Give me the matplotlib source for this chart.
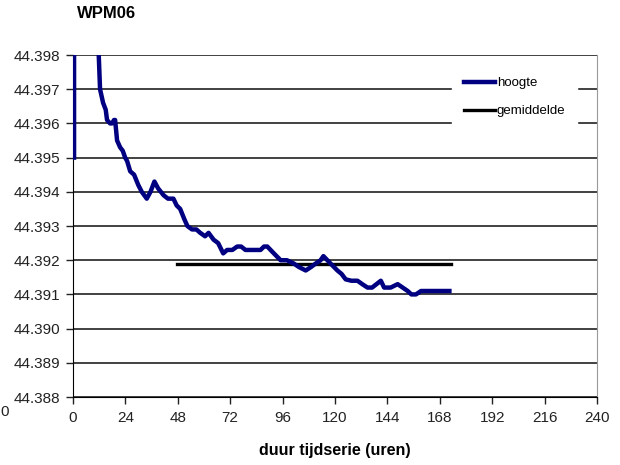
import numpy as np
import matplotlib.pyplot as plt
from matplotlib.ticker import FormatStrFormatter

plt.rcParams['font.family'] = ['Liberation Sans', 'DejaVu Sans']

# ---- data ----
uren = [0.5, 0.5, 5.0, 11.0, 11.8, 12.4, 13.8, 15.0, 15.6, 17.0, 17.9, 18.8, 19.3,
        20.2, 21.6, 22.8, 23.9, 24.8, 26.2, 28.0, 29.9, 31.5, 33.8, 35.5, 37.3,
        39.0, 41.5, 43.5, 46.0, 47.5, 49.1, 51.0, 52.4, 54.5, 56.5, 58.3, 60.5,
        62.1, 64.4, 66.5, 68.8, 70.6, 73.0, 75.2, 77.0, 79.0, 82.5, 85.9, 87.5,
        89.0, 92.0, 95.1, 98.0, 101.2, 103.5, 106.6, 109.0, 111.1, 113.4, 114.7,
        116.5, 118.0, 121.1, 123.0, 124.9, 127.5, 130.3, 132.5, 134.9, 137.0,
        139.0, 141.0, 142.5, 145.5, 148.7, 151.0, 153.3, 155.0, 157.1, 159.4,
        166.0, 172.4]
hoogte = [44.3950, 44.3995, 44.4000, 44.3995, 44.3980, 44.3970, 44.3966, 44.3964,
          44.3961, 44.3960, 44.3960, 44.3961, 44.3961, 44.3955, 44.3953, 44.3952,
          44.3950, 44.3949, 44.3946, 44.3945, 44.3942, 44.3940, 44.3938, 44.3940,
          44.3943, 44.3941, 44.3939, 44.3938, 44.3938, 44.3936, 44.3935, 44.3932,
          44.3930, 44.3929, 44.3929, 44.3928, 44.3927, 44.3928, 44.3926, 44.3925,
          44.3922, 44.3923, 44.3923, 44.3924, 44.3924, 44.3923, 44.3923, 44.3923,
          44.3924, 44.3924, 44.3922, 44.3920, 44.3920, 44.3919, 44.3918, 44.3917,
          44.3918, 44.3919, 44.3920, 44.39212, 44.3920, 44.3919, 44.3917, 44.3916,
          44.39144, 44.3914, 44.3914, 44.3913, 44.3912, 44.3912, 44.3913, 44.3914,
          44.3912, 44.3912, 44.3913, 44.3912, 44.3911, 44.3910, 44.3910, 44.3911,
          44.3911, 44.3911]

gem_uren = [47.6, 173.2]
gemiddelde = [44.39189, 44.39189]

xticks = np.arange(0, 241, 24)
yticks = np.arange(44.388, 44.3985, 0.001)

# ---- plotting ----
fig = plt.figure(figsize=(6.2, 4.65), dpi=100)
ax = fig.add_axes([0.1177, 0.1462, 0.8452, 0.7355])

ax.set_axisbelow(True)
ax.yaxis.grid(True, color='#333333', linewidth=1.3)
ax.plot(uren, hoogte, color='#000080', linewidth=3.2, label='hoogte',
        solid_joinstyle='round', zorder=3)
ax.plot(gem_uren, gemiddelde, color='black', linewidth=2.4, label='gemiddelde', zorder=2)

ax.set_xlim(0, 240)
ax.set_ylim(44.388, 44.398)
ax.set_xticks(xticks)
ax.set_yticks(yticks)
ax.yaxis.set_major_formatter(FormatStrFormatter('%.3f'))
ax.tick_params(direction='out', length=5, width=1, labelsize=11, colors='#222222')
ax.tick_params(axis='x', pad=5)
ax.tick_params(axis='y', pad=4)

ax.spines['top'].set_visible(False)
ax.spines['right'].set_color('#999999')
ax.spines['left'].set_color('black')
ax.spines['bottom'].set_color('black')

leg = ax.legend(loc='upper right', bbox_to_anchor=(0.975, 0.99), fontsize=9.5,
                handlelength=2.4, handletextpad=0.1, borderpad=0.9,
                labelspacing=1.2, frameon=True, fancybox=False)
leg.get_frame().set_edgecolor('white')
leg.get_frame().set_facecolor('white')
leg.get_frame().set_alpha(1)

ax.set_xlabel('duur tijdserie (uren)', fontsize=11.5, fontweight='bold', labelpad=13)
fig.text(0.124, 0.97, 'WPM06', fontsize=12, fontweight='bold', va='center')
fig.text(0.0, 0.115, '0', fontsize=11, color='#222222', va='center')

plt.savefig('out.png', dpi=100)
